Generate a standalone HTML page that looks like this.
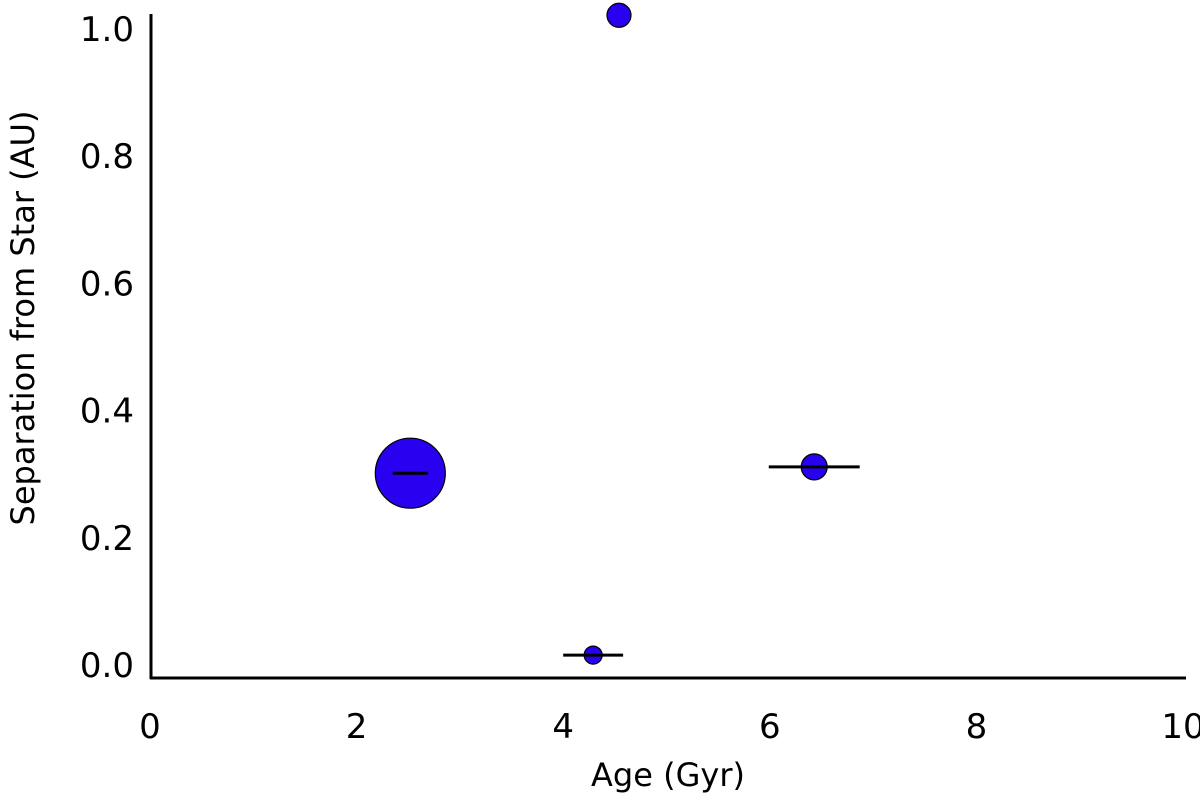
<!DOCTYPE html>
<html><head><meta charset="utf-8"><style>
html,body{margin:0;padding:0;background:#fff;}
svg{display:block;font-family:"DejaVu Sans","Liberation Sans",sans-serif;}
</style></head><body>
<svg id="chart" width="1200" height="802" viewBox="0 0 1200 802">
<g id="axes"></g>
<g id="marks"></g>
</svg>
<script>
const ages = [2.52, 4.29, 4.54, 6.43];
const seps = [0.30, 0.014, 1.02, 0.31];
const ageErr = [0.17, 0.29, 0, 0.44];
const radii = [35, 9, 12, 13];
const xTicks = ["0","2","4","6","8","10"];
const yTicks = ["0.0","0.2","0.4","0.6","0.8","1.0"];

const NS = "http://www.w3.org/2000/svg";
const X = v => 150 + v * 103.3;
const Y = v => 664 - v * 636;
function mk(tag, attrs, parent){const e=document.createElementNS(NS,tag);for(const k in attrs)e.setAttribute(k,attrs[k]);parent.appendChild(e);return e;}
const axes=document.getElementById('axes'), marks=document.getElementById('marks');

let l=mk('line',{x1:151,y1:14,x2:151,y2:679,stroke:'#000','stroke-width':3},axes);


l=mk('line',{x1:150,y1:678,x2:1186,y2:678,stroke:'#000','stroke-width':3},axes);



xTicks.forEach(t=>{
  const e=mk('text',{x:X(+t),y:738,'text-anchor':'middle','font-size':34,fill:'#000'},axes);
  e.textContent=t;
  
  
});
yTicks.forEach(t=>{
  const e=mk('text',{x:134,y:Y(+t)+13,'text-anchor':'end','font-size':34,fill:'#000'},axes);
  e.textContent=t;
  
  
});
let tt=mk('text',{x:668,y:786,'text-anchor':'middle','font-size':32,fill:'#000'},axes);
tt.textContent='Age (Gyr)';


tt=mk('text',{x:0,y:0,'text-anchor':'middle','font-size':32,fill:'#000',transform:'translate(34,318) rotate(-90)'},axes);
tt.textContent='Separation from Star (AU)';



ages.forEach((a,i)=>{
  const c=mk('circle',{cx:X(a),cy:Y(seps[i]),r:radii[i],fill:'#2a00f0',stroke:'#000','stroke-width':1.2},marks);
  
  
  if(ageErr[i]>0){
    const e=mk('line',{x1:X(a-ageErr[i]),y1:Y(seps[i]),x2:X(a+ageErr[i]),y2:Y(seps[i]),stroke:'#000','stroke-width':3},marks);
    
    
  }
});
</script>
</body></html>
